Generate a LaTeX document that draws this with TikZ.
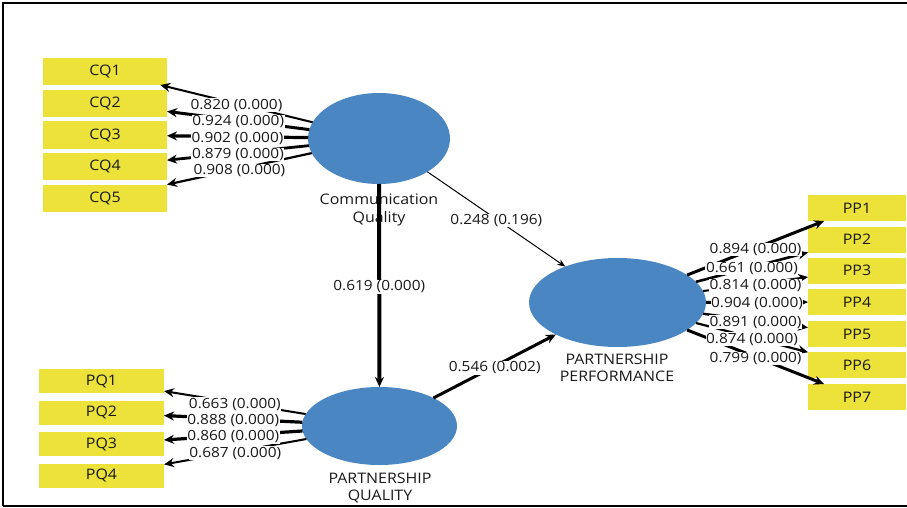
\documentclass[tikz,border=0pt]{standalone}
\usepackage{fontspec}
\setmainfont[FakeStretch=1.1]{Open Sans}
\usetikzlibrary{arrows.meta,shapes.geometric}
\definecolor{boxyellow}{RGB}{236,226,58}
\definecolor{lvblue}{RGB}{74,134,193}
\definecolor{txt}{RGB}{25,25,25}
\begin{document}
\begin{tikzpicture}[x=1pt,y=-1pt,
  ind/.style={rectangle,fill=boxyellow,inner sep=0pt,outer sep=0pt,font=\fontsize{14.5}{16}\selectfont,text=txt},
  lv/.style={ellipse,fill=lvblue,inner sep=0pt,outer sep=0pt},
  lab/.style={fill=white,inner sep=0.6pt,yshift=-1.5pt,font=\fontsize{14}{16}\selectfont,text=txt},
  lvlab/.style={align=center,font=\fontsize{14.5}{17.5}\selectfont,text=txt},
  arr/.style={-{Stealth[length=10pt,width=9pt]}},
  thinarr/.style={-{Stealth[length=8pt,width=6.5pt]}},
]
\useasboundingbox (0,0) rectangle (907,508);
% frame
\draw[line width=2.2pt] (3,506) -- (3,3) -- (907,3);
\draw[line width=2.2pt] (3,506) -- (907,506);

% latent variables
\node[lv,minimum width=142pt,minimum height=91pt] (cq) at (379,138.5) {};
\node[lv,minimum width=177pt,minimum height=89pt] (pp) at (617.5,302.5) {};
\node[lv,minimum width=155pt,minimum height=78pt] (pq) at (379.5,426) {};

% latent labels
\node[lvlab] (cqlab) at (379,210) {Communication\\Quality};
\node[lvlab] (pplab) at (617,368) {PARTNERSHIP\\PERFORMANCE};
\node[lvlab] (pqlab) at (380,488) {PARTNERSHIP\\QUALITY};

% indicators
\foreach \i/\y in {1/71.5,2/103.5,3/135,4/166.5,5/198}
  \node[ind,minimum width=124pt,minimum height=27pt] (cq\i) at (105,\y) {CQ\i};
\foreach \i/\y in {1/381,2/412.5,3/444,4/475.5}
  \node[ind,minimum width=125pt,minimum height=24pt] (pq\i) at (101.5,\y) {PQ\i};
\foreach \i/\y in {1/208,2/239.5,3/270.5,4/302,5/334,6/365,7/397}
  \node[ind,minimum width=98pt,minimum height=26pt] (pp\i) at (857,\y) {PP\i};

% outer loadings
\foreach \i/\w in {1/2.0,2/3.0,3/3.2,4/2.8,5/2.2}
  \draw[arr,line width=\w pt] (cq) -- (cq\i) coordinate[midway] (mcq\i);
\foreach \i/\w in {1/2.0,2/3.2,3/3.2,4/2.0}
  \draw[arr,line width=\w pt] (pq) -- (pq\i) coordinate[midway] (mpq\i);
\foreach \i/\w in {1/3.0,2/2.6,3/2.0,4/3.0,5/2.4,6/2.2,7/3.0}
  \draw[arr,line width=\w pt] (pp) -- (pp\i) coordinate[midway] (mpp\i);

% structural paths
\draw[arr,line width=4pt] (cq) -- (pq) coordinate[midway] (mcqpq);
\draw[thinarr,line width=1pt] (cq) -- (pp) coordinate[midway] (mcqpp);
\draw[arr,line width=3pt] (pq) -- (pp) coordinate[midway] (mpqpp);

% labels
\foreach \i/\val in {1/0.820,2/0.924,3/0.902,4/0.879,5/0.908}
  \node[lab] (lcq\i) at (mcq\i) {\val\ (0.000)};
\foreach \i/\val in {1/0.663,2/0.888,3/0.860,4/0.687}
  \node[lab] (lpq\i) at (mpq\i) {\val\ (0.000)};
\foreach \i/\val in {1/0.894,2/0.661,3/0.814,4/0.904,5/0.891,6/0.874,7/0.799}
  \node[lab] (lpp\i) at (mpp\i) {\val\ (0.000)};
\node[lab] (lcqpq) at (mcqpq) {0.619 (0.000)};
\node[lab] (lcqpp) at (mcqpp) {0.248 (0.196)};
\node[lab] (lpqpp) at (mpqpp) {0.546 (0.002)};
\end{tikzpicture}
\end{document}
